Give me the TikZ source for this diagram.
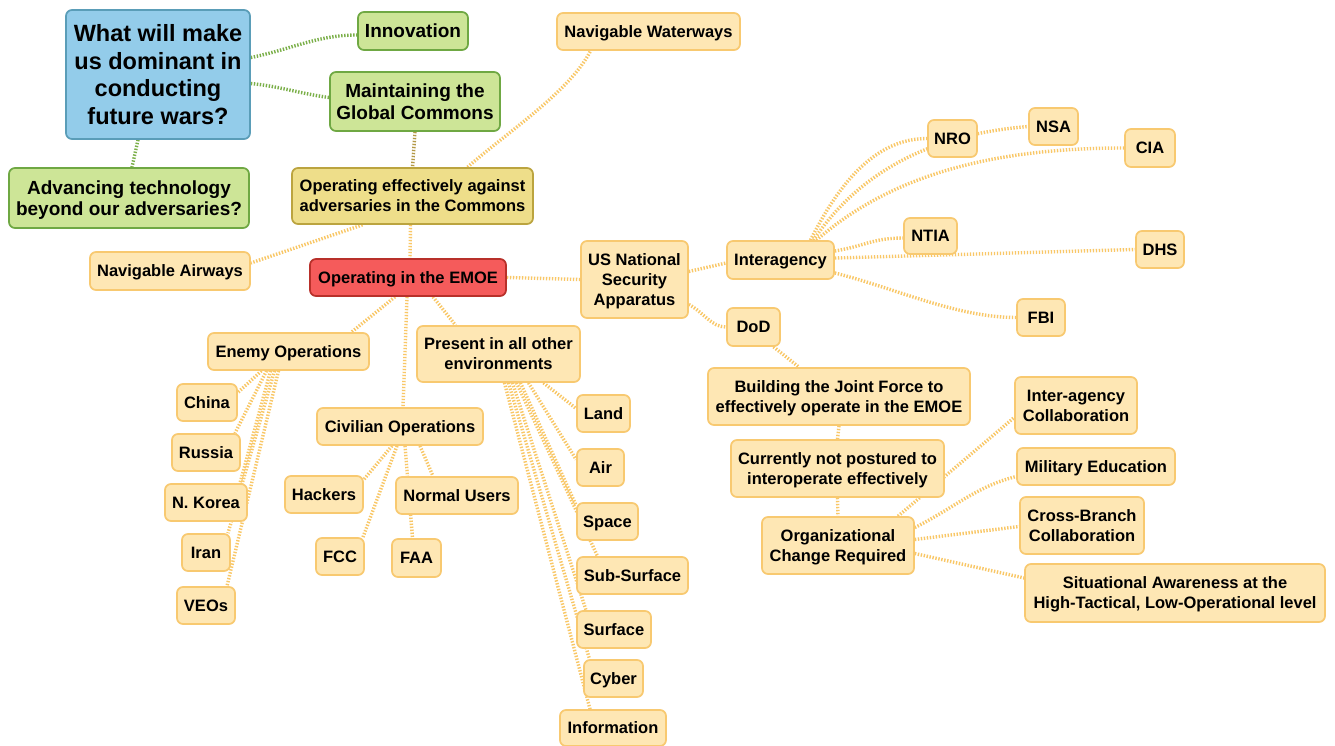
\documentclass[tikz,border=0pt]{standalone}
\usepackage{fontspec}
\setmainfont{Liberation Sans}
\pgfdeclarelayer{bg}
\pgfsetlayers{bg,main}
\definecolor{nfill}{HTML}{FEE7B4}
\definecolor{nline}{HTML}{F8C970}
\definecolor{ccol}{HTML}{F9C766}
\definecolor{rfill}{HTML}{F55B5B}
\definecolor{rline}{HTML}{B8302A}
\definecolor{bfill}{HTML}{93CCEA}
\definecolor{bline}{HTML}{5A9DB8}
\definecolor{gfill}{HTML}{CDE597}
\definecolor{gline}{HTML}{6FA843}
\definecolor{gccol}{HTML}{7AAF48}
\definecolor{ofill}{HTML}{EEDE8A}
\definecolor{oline}{HTML}{BBA43F}
\definecolor{occol}{HTML}{B39845}
\tikzset{
  box/.style={draw=nline, fill=nfill, line width=1.7pt, rounded corners=6pt, align=center, inner sep=0pt, minimum height=37pt, text=black, text depth=0pt, font=\bfseries\fontsize{16.5}{20}\selectfont},
  two/.style={minimum height=57pt},
  redbox/.style={box, fill=rfill, draw=rline},
  bluebox/.style={box, fill=bfill, draw=bline, font=\bfseries\fontsize{23.5}{27.5}\selectfont},
  greenbox/.style={box, fill=gfill, draw=gline, font=\bfseries\fontsize{19}{21.5}\selectfont},
  olivebox/.style={box, fill=ofill, draw=oline},
  conn/.style={draw=ccol, line width=3.4pt, dash pattern=on 1.4pt off 1.6pt},
  gconn/.style={conn, draw=gccol},
  oconn/.style={conn, draw=occol},
}
\begin{document}
\begin{tikzpicture}[x=1pt,y=-1pt]
\useasboundingbox (0,0) rectangle (1335,746);
% top
\node[bluebox, minimum width=184pt, minimum height=129pt] (q) at (158,74.5) {What will make\\us dominant in\\conducting\\future wars?};
\node[greenbox, minimum width=110pt, minimum height=38pt] (innov) at (413,31) {Innovation};
\node[greenbox, minimum width=170pt, minimum height=59pt] (maint) at (415,101.5) {Maintaining the\\Global Commons};
\node[greenbox, minimum width=240pt, minimum height=60pt] (adv) at (129,198) {Advancing technology\\beyond our adversaries?};
\node[olivebox, minimum width=241pt, minimum height=56pt] (opeff) at (412.5,196) {Operating effectively against\\adversaries in the Commons};
\node[box, minimum width=183pt] (water) at (648.5,31.5) {Navigable Waterways};
\node[box, minimum width=160pt, minimum height=38pt] (airways) at (170,271) {Navigable Airways};
\node[redbox, minimum width=196pt] (emoe) at (408,277.5) {Operating in the EMOE};
% right
\node[box, minimum width=107pt, minimum height=77pt] (usnsa) at (634.5,279.5) {US National\\Security\\Apparatus};
\node[box, minimum width=107pt, minimum height=38pt] (inter) at (780.5,260) {Interagency};
\node[box, minimum width=53pt, minimum height=38pt] (dod) at (753.5,327) {DoD};
\node[box, minimum width=49pt] (nro) at (952.5,138.5) {NRO};
\node[box, minimum width=49pt] (nsa) at (1053.5,126.5) {NSA};
\node[box, minimum width=50pt, minimum height=38pt] (cia) at (1150,148) {CIA};
\node[box, minimum width=53pt, minimum height=36pt] (ntia) at (930.5,236) {NTIA};
\node[box, minimum width=48pt] (dhs) at (1160,249.5) {DHS};
\node[box, minimum width=48pt] (fbi) at (1041,317.5) {FBI};
\node[box, two, minimum width=262pt] (build) at (839,396.5) {Building the Joint Force to\\effectively operate in the EMOE};
\node[box, two, minimum width=213pt] (curr) at (837.5,468.5) {Currently not postured to\\interoperate effectively};
\node[box, two, minimum width=152pt] (org) at (838,545.5) {Organizational\\Change Required};
\node[box, two, minimum width=122pt] (iac) at (1076,405.5) {Inter-agency\\Collaboration};
\node[box, minimum width=158pt] (mil) at (1096,466.5) {Military Education};
\node[box, two, minimum width=124pt] (cross) at (1082,525.5) {Cross-Branch\\Collaboration};
\node[box, minimum width=300pt, minimum height=58pt] (sit) at (1175,593) {Situational Awareness at the\\High-Tactical, Low-Operational level};
% left bottom
\node[box, minimum width=161pt] (enemy) at (288.5,351.5) {Enemy Operations};
\node[box, minimum width=60pt] (china) at (207,402.5) {China};
\node[box, minimum width=68pt] (russia) at (206,452.5) {Russia};
\node[box, minimum width=82pt] (nk) at (206,502.5) {N. Korea};
\node[box, minimum width=48pt] (iran) at (206,552.5) {Iran};
\node[box, minimum width=58pt] (veos) at (206,605.5) {VEOs};
\node[box, minimum width=166pt] (civ) at (400,426.5) {Civilian Operations};
\node[box, minimum width=163pt, minimum height=56pt] (present) at (498.5,354) {Present in all other\\environments};
\node[box, minimum width=78pt] (hackers) at (324,494.5) {Hackers};
\node[box, minimum width=122pt] (nu) at (457,495.5) {Normal Users};
\node[box, minimum width=48pt] (fcc) at (340,556.5) {FCC};
\node[box, minimum width=49pt, minimum height=38pt] (faa) at (416.5,558) {FAA};
\node[box, minimum width=53pt] (land) at (603.5,413.5) {Land};
\node[box, minimum width=47pt] (airenv) at (600.5,467.5) {Air};
\node[box, minimum width=61pt] (space) at (607.5,521.5) {Space};
\node[box, minimum width=111pt] (sub) at (632.5,575.5) {Sub-Surface};
\node[box, minimum width=74pt] (surf) at (614,629.5) {Surface};
\node[box, minimum width=59pt] (cyber) at (613.5,678.5) {Cyber};
\node[box, minimum width=106pt, minimum height=36pt] (info) at (613,728) {Information};

\begin{pgfonlayer}{bg}
\fill[white] (0,0) rectangle (1335,746);
% top
\draw[gconn] ([yshift=17pt]q.east) .. controls +(40,-8) and +(-40,0) .. ([yshift=-4pt]innov.west);
\draw[gconn] ([yshift=-9pt]q.east) .. controls +(30,3) and +(-30,-4) .. ([yshift=4pt]maint.west);
\draw[gconn] ([xshift=-20pt]q.south) -- ([xshift=3pt]adv.north);
\draw[oconn] (maint.south) -- (opeff.north);
\draw[conn] ([xshift=55pt]opeff.north) .. controls +(40,-35) and +(-20,40) .. ([xshift=-58pt]water.south);
\draw[conn] ([xshift=-50pt]opeff.south) -- ([yshift=8pt]airways.east);
\draw[conn] ([xshift=-2pt]opeff.south) -- ([xshift=2pt]emoe.north);
\draw[conn] (emoe.east) -- (usnsa.west);
\draw[conn] ([xshift=-13pt]emoe.south) -- ([xshift=63pt]enemy.north);
\draw[conn] ([xshift=-1pt]emoe.south) -- ([xshift=3pt]civ.north);
\draw[conn] ([xshift=25pt]emoe.south) -- ([xshift=-43pt]present.north);
% national security
\draw[conn] ([yshift=8pt]usnsa.east) -- ([yshift=-3pt]inter.west);
\draw[conn] ([yshift=-25pt]usnsa.east) .. controls +(15,8) and +(-15,0) .. (dod.west);
\draw[conn] ([xshift=30pt]inter.north) .. controls +(30,-60) and +(-50,0) .. (nro.west);
\draw[conn] ([xshift=33pt]inter.north) .. controls +(60,-90) and +(-60,5) .. (nsa.west);
\draw[conn] ([xshift=36pt]inter.north) .. controls +(80,-70) and +(-120,0) .. (cia.west);
\draw[conn] ([yshift=9pt]inter.east) .. controls +(30,-5) and +(-30,0) .. ([yshift=-2pt]ntia.west);
\draw[conn] ([yshift=2pt]inter.east) -- (dhs.west);
\draw[conn] ([yshift=-13pt]inter.east) .. controls +(60,15) and +(-60,0) .. (fbi.west);
\draw[conn] ([xshift=20pt]dod.south) -- ([xshift=-40pt]build.north);
\draw[conn] (build.south) -- (curr.north);
\draw[conn] (curr.south) -- (org.north);
\draw[conn] ([xshift=60pt]org.north) -- ([yshift=-12pt]iac.west);
\draw[conn] ([yshift=18pt]org.east) .. controls +(40,-20) and +(-40,10) .. ([yshift=-10pt]mil.west);
\draw[conn] ([yshift=6pt]org.east) -- ([yshift=-1pt]cross.west);
\draw[conn] ([yshift=-8pt]org.east) -- ([yshift=15pt]sit.west);
% enemy
\draw[conn] ([xshift=-27pt]enemy.south) -- ([yshift=10pt]china.east);
\draw[conn] ([xshift=-22pt]enemy.south) -- ([xshift=29pt]russia.north);
\draw[conn] ([xshift=-18pt]enemy.south) -- ([xshift=34pt]nk.north);
\draw[conn] ([xshift=-14pt]enemy.south) -- ([xshift=22pt]iran.north);
\draw[conn] ([xshift=-10pt]enemy.south) -- ([xshift=21pt]veos.north);
% civilian
\draw[conn] ([xshift=-8pt]civ.south) -- ([yshift=15pt]hackers.east);
\draw[conn] ([xshift=-3pt]civ.south) -- ([xshift=23pt]fcc.north);
\draw[conn] ([xshift=5pt]civ.south) -- ([xshift=-4pt]faa.north);
\draw[conn] ([xshift=20pt]civ.south) -- ([xshift=-24pt]nu.north);
% environments
\draw[conn] ([xshift=45pt]present.south) -- ([yshift=5pt]land.west);
\draw[conn] ([xshift=30pt]present.south) -- ([yshift=8pt]airenv.west);
\draw[conn] ([xshift=22pt]present.south) -- ([yshift=16pt]space.west);
\draw[conn] ([xshift=18pt]present.south) -- ([xshift=-35pt]sub.north);
\draw[conn] ([xshift=14pt]present.south) -- ([xshift=-28pt]surf.north);
\draw[conn] ([xshift=10pt]present.south) -- ([xshift=-24pt]cyber.north);
\draw[conn] ([xshift=6pt]present.south) -- ([xshift=-23pt]info.north);
\end{pgfonlayer}
\end{tikzpicture}
\end{document}
